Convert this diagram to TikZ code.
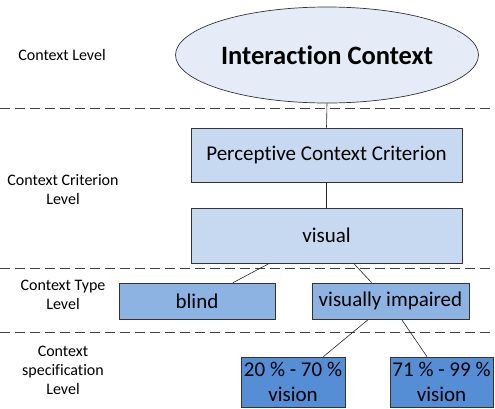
\documentclass[tikz,border=0pt]{standalone}
\usepackage{fontspec}
\setmainfont[Ligatures={NoCommon,NoRare}]{Carlito}
\usetikzlibrary{shapes.geometric,calc}

\definecolor{ctxfill}{HTML}{E6ECF7}
\definecolor{critfill}{HTML}{C6D9F1}
\definecolor{typefill}{HTML}{8DB3E2}
\definecolor{specfill}{HTML}{558ED5}

\begin{document}
\begin{tikzpicture}[x=1pt,y=-1pt,
	levelbox/.style={draw=black!80, line width=0.7pt, rectangle, inner sep=0pt, align=center, font=\fontsize{21}{25}\selectfont},
	levelname/.style={align=center, font=\fontsize{16}{19}\selectfont},
	levelsep/.style={black!75, line width=0.8pt, dash pattern=on 10pt off 5pt},
	link/.style={black!85, line width=0.6pt}]
	
	\useasboundingbox (0,0) rectangle (495,408);
	
	% Level names on the left
	\node[levelname] (lContext) at (62,55) {Context Level};
	\node[levelname] (lCriterion) at (63,190) {Context Criterion\\Level};
	\node[levelname] (lType) at (63,295) {Context Type\\Level};
	\node[levelname] (lSpec) at (63,370) {Context\\specification\\Level};
	
	% Dashed separators
	\foreach \y in {108, 268, 332} {
		\draw[levelsep] (0,\y) -- (495,\y);
	}
	
	% Context level
	\node[ellipse, draw=black!80, line width=0.7pt, fill=ctxfill, minimum width=303pt, minimum height=96pt, inner sep=0pt,
		font=\fontsize{26.5}{30}\selectfont\bfseries] (ctx) at (327,55) {Interaction Context};
	
	% Context criterion level
	\node[levelbox, fill=critfill, minimum width=271pt, minimum height=54pt] (crit) at (326.5,155) {Perceptive Context Criterion};
	\node[levelbox, fill=critfill, minimum width=271pt, minimum height=55pt] (vis) at (326.5,235.5) {visual};
	
	% Context type level
	\node[levelbox, fill=typefill, minimum width=156pt, minimum height=36pt] (blind) at (197,301) {blind};
	\node[levelbox, fill=typefill, minimum width=157pt, minimum height=36pt] (vimp) at (390.5,301) {visually impaired};
	
	% Context specification level
	\node[levelbox, fill=specfill, minimum width=104pt, minimum height=50pt] (low) at (293,382) {20 \% - 70 \%\\vision};
	\node[levelbox, fill=specfill, minimum width=103pt, minimum height=50pt] (high) at (441.5,382) {71 \% - 99 \%\\vision};
	
	% Connections
	\draw[link] (ctx.south) -- (crit.north);
	\draw[link] (crit.south) -- (vis.north);
	\draw[link] ($(vis.south west)!0.29!(vis.south east)$) -- ($(blind.north west)!0.73!(blind.north east)$);
	\draw[link] ($(vis.south west)!0.60!(vis.south east)$) -- ($(vimp.north west)!0.38!(vimp.north east)$);
	\draw[link] ($(vimp.south west)!0.36!(vimp.south east)$) -- ($(low.north west)!0.79!(low.north east)$);
	\draw[link] ($(vimp.south west)!0.57!(vimp.south east)$) -- ($(high.north west)!0.36!(high.north east)$);
	
\end{tikzpicture}
\end{document}
